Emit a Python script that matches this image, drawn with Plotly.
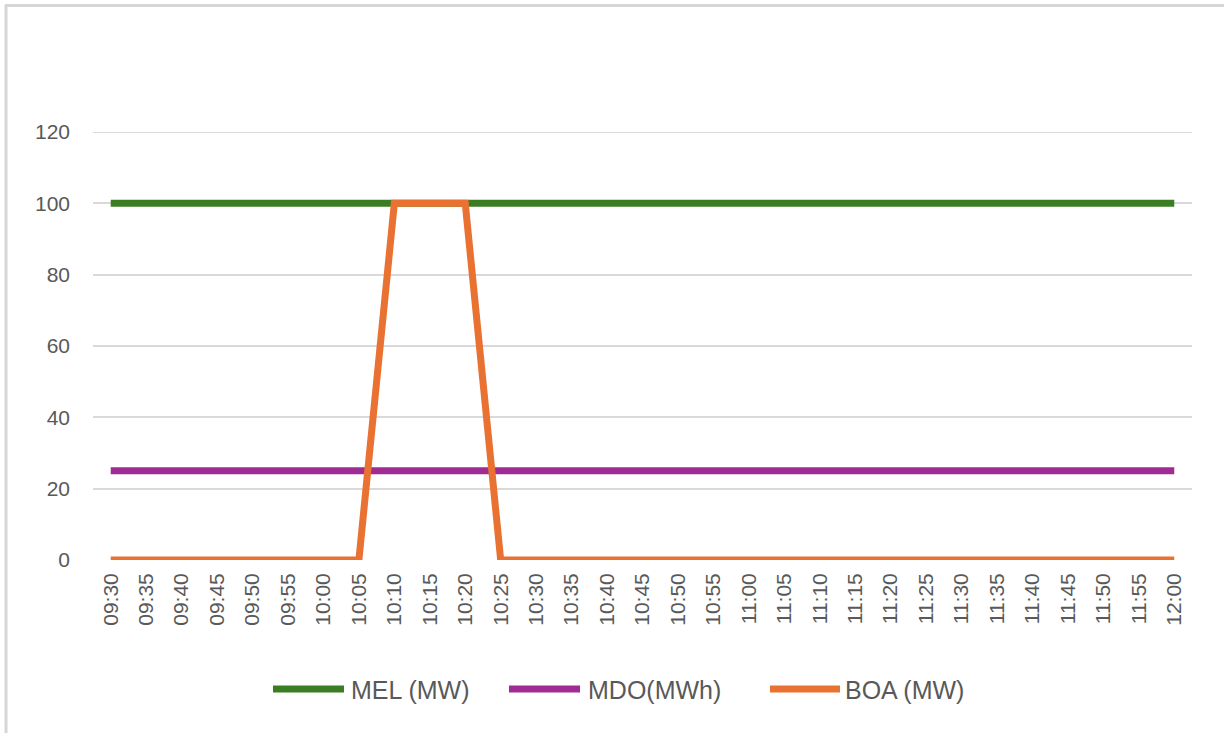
import plotly.graph_objects as go

# Half-hourly settlement window, 5-minute steps
times = ["09:30", "09:35", "09:40", "09:45", "09:50", "09:55", "10:00", "10:05",
         "10:10", "10:15", "10:20", "10:25", "10:30", "10:35", "10:40", "10:45",
         "10:50", "10:55", "11:00", "11:05", "11:10", "11:15", "11:20", "11:25",
         "11:30", "11:35", "11:40", "11:45", "11:50", "11:55", "12:00"]

mel_mw = [100, 100, 100, 100, 100, 100, 100, 100, 100, 100, 100, 100, 100, 100, 100, 100,
          100, 100, 100, 100, 100, 100, 100, 100, 100, 100, 100, 100, 100, 100, 100]
mdo_mwh = [25, 25, 25, 25, 25, 25, 25, 25, 25, 25, 25, 25, 25, 25, 25, 25,
           25, 25, 25, 25, 25, 25, 25, 25, 25, 25, 25, 25, 25, 25, 25]
boa_mw = [0, 0, 0, 0, 0, 0, 0, 0, 100, 100, 100, 0, 0, 0, 0, 0,
          0, 0, 0, 0, 0, 0, 0, 0, 0, 0, 0, 0, 0, 0, 0]

series_names = ["MEL (MW)", "MDO(MWh)", "BOA (MW)"]
series_colors = ["#3b7d23", "#a02b93", "#e97132"]
y_ticks = [0, 20, 40, 60, 80, 100, 120]

W, H = 1224, 733
ML, MR, MT, MB = 93, 32, 132, 173
TEXT = "#595959"
GRID = "#d9d9d9"


def px_x(px):
    return (px - ML) / (W - ML - MR)


def px_y(py):
    return 1 - (py - MT) / (H - MT - MB)


fig = go.Figure()
for name, vals, col in zip(series_names, [mel_mw, mdo_mwh, boa_mw], series_colors):
    fig.add_trace(go.Scatter(
        x=times, y=vals, name=name, mode="lines",
        line=dict(color=col, width=7),
        showlegend=False,
    ))

shapes = []
annotations = []

# Top gridline (plotly omits the one sitting on the plot edge)
shapes.append(dict(type="line", xref="paper", yref="y", layer="below",
                   x0=0, x1=1, y0=y_ticks[-1], y1=y_ticks[-1],
                   line=dict(color=GRID, width=2)))

# Custom legend row underneath the chart
legend_items = [(273, 344, 349), (509, 580, 586), (770, 840, 843)]
for (x0, x1, tx), name, col in zip(legend_items, series_names, series_colors):
    shapes.append(dict(type="line", xref="paper", yref="paper",
                       x0=px_x(x0), x1=px_x(x1), y0=px_y(689), y1=px_y(689),
                       line=dict(color=col, width=7)))
    annotations.append(dict(text=name, xref="paper", yref="paper",
                            x=px_x(tx), y=px_y(690), xanchor="left", yanchor="middle",
                            showarrow=False,
                            font=dict(family="Liberation Sans", size=25, color=TEXT)))

# Chart frame (left and top edges)
shapes.append(dict(type="line", xref="paper", yref="paper",
                   x0=px_x(6), x1=px_x(6), y0=px_y(5), y1=px_y(H + 5),
                   line=dict(color="#d6d6d6", width=3)))
shapes.append(dict(type="line", xref="paper", yref="paper",
                   x0=px_x(5), x1=px_x(W + 5), y0=px_y(5.5), y1=px_y(5.5),
                   line=dict(color="#d6d6d6", width=3)))

fig.update_layout(
    width=W, height=H,
    margin=dict(l=ML, r=MR, t=MT, b=MB),
    paper_bgcolor="white", plot_bgcolor="white",
    font=dict(family="Liberation Sans", size=21, color=TEXT),
    shapes=shapes,
    annotations=annotations,
    xaxis=dict(
        type="category", range=[-0.5, 30.5],
        showgrid=False, zeroline=False, showline=False,
        tickangle=-90, ticks="", ticklabelstandoff=8,
        tickfont=dict(family="Liberation Sans", size=21, color=TEXT),
    ),
    yaxis=dict(
        range=[0, 120], tickvals=y_ticks,
        showgrid=True, gridcolor=GRID, gridwidth=2,
        zeroline=False, showline=False, ticks="",
        ticklabelstandoff=22,
        tickfont=dict(family="Liberation Sans", size=21, color=TEXT),
    ),
)

fig.write_html("out.html")
